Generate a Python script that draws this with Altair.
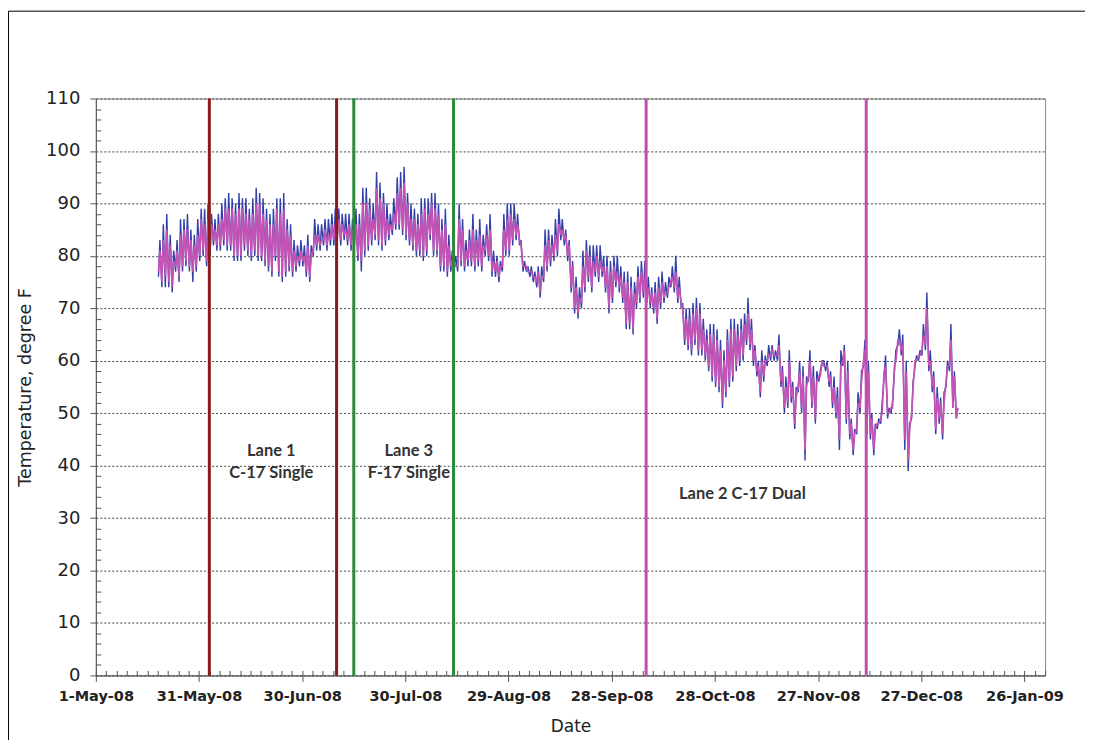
import altair as alt
import pandas as pd

# ---------------- data ----------------
START = "2008-05-19"  # first day of readings; one low (early morning) and one high (afternoon) per day

BLUE_HIGH = [
    83, 86, 88, 84, 81, 83, 87, 87, 88, 85, 84, 87, 89, 89, 90, 88, 87, 88, 90, 91, 92, 91,
    90, 92, 91, 91, 89, 91, 93, 92, 91, 89, 88, 89, 91, 91, 92, 87, 86, 83, 82, 83, 82,
    84, 82, 87, 86, 86, 87, 87, 88, 89, 89, 88, 88, 88, 87, 89, 88, 93, 93, 91, 90, 96, 94,
    92, 90, 88, 91, 95, 96, 97, 92, 90, 89, 88, 91, 91, 91, 92, 92, 90, 87, 89, 84,
    81, 80, 90, 87, 83, 85, 88, 85, 87, 84, 86, 88, 81, 80, 79, 88, 90, 90, 90, 88, 83,
    79, 78, 78, 77, 78, 78, 85, 85, 84, 87, 89, 87, 85, 83, 79, 76, 74, 81, 83, 82, 82,
    82, 82, 80, 80, 79, 80, 80, 78, 77, 77, 76, 75, 78, 79, 79, 76, 74, 75, 76, 77, 75,
    76, 78, 80, 76, 71, 70, 70, 71, 72, 71, 68, 66, 67, 67, 66, 64, 62, 66, 68, 68, 67,
    68, 69, 72, 68, 63, 60, 62, 61, 63, 63, 62, 65, 59, 57, 62, 56, 55, 60, 59, 57,
    62, 59, 58, 58, 60, 60, 58, 57, 55, 62, 63, 60, 49, 47, 54, 58, 64, 60, 50, 48, 49, 52, 61,
    51, 52, 62, 66, 65, 60, 48, 56, 61, 62, 67, 73, 62, 58, 55, 53, 54, 60,
    67, 58, 51,
]
BLUE_LOW = [
    76, 74, 74, 74, 73, 77, 75, 77, 78, 77, 75, 77, 79, 80, 78, 80, 82, 81, 81, 82, 81, 81,
    79, 79, 79, 81, 80, 79, 80, 79, 79, 78, 77, 76, 79, 76, 75, 76, 77, 76, 77, 78, 78,
    76, 75, 80, 81, 81, 82, 81, 82, 82, 83, 82, 83, 82, 81, 82, 79, 77, 80, 81, 82, 83, 82,
    81, 82, 83, 84, 85, 85, 84, 83, 82, 81, 80, 80, 79, 80, 83, 80, 80, 77, 77, 76,
    77, 78, 77, 78, 77, 78, 78, 77, 78, 77, 80, 79, 76, 76, 75, 77, 80, 80, 82, 83, 82,
    77, 77, 76, 75, 74, 72, 75, 77, 78, 79, 80, 83, 82, 79, 73, 69, 68, 70, 73, 75, 73,
    76, 75, 76, 73, 69, 71, 74, 73, 71, 66, 66, 65, 70, 71, 72, 71, 70, 69, 67, 70, 71,
    72, 74, 73, 71, 70, 63, 62, 61, 63, 61, 61, 60, 58, 56, 55, 54, 51, 53, 55, 56, 58,
    59, 60, 63, 62, 59, 57, 53, 56, 59, 60, 60, 60, 55, 50, 51, 52, 47, 54, 50, 41,
    56, 51, 48, 56, 60, 58, 55, 51, 49, 43, 59, 48, 45, 42, 46, 50, 59, 46, 45, 42, 47, 48, 57,
    49, 50, 58, 63, 61, 43, 39, 49, 59, 60, 61, 62, 58, 54, 46, 48, 45, 55,
    58, 51, 49,
]
MAG_HIGH = [
    81, 83, 85, 82, 79, 81, 84, 85, 85, 83, 82, 84, 87, 86, 87, 86, 85, 86, 87, 89, 89, 89,
    88, 89, 89, 88, 87, 88, 90, 90, 88, 87, 86, 86, 89, 88, 89, 85, 84, 81, 80, 81, 80,
    82, 80, 84, 84, 83, 85, 84, 86, 86, 87, 86, 85, 86, 85, 86, 86, 90, 90, 89, 87, 93, 91,
    90, 87, 86, 88, 92, 93, 94, 90, 87, 87, 86, 88, 89, 88, 90, 89, 88, 85, 86, 82,
    79, 78, 87, 85, 81, 83, 85, 83, 84, 82, 84, 85, 79, 79, 78, 85, 87, 88, 87, 86, 82,
    78, 77, 77, 76, 77, 76, 82, 83, 82, 84, 86, 85, 84, 82, 78, 74, 72, 78, 81, 80, 79,
    80, 79, 78, 78, 77, 78, 77, 76, 75, 75, 74, 73, 76, 77, 76, 74, 73, 73, 74, 75, 73,
    74, 76, 77, 74, 70, 68, 68, 69, 70, 69, 66, 64, 65, 65, 64, 62, 60, 64, 66, 66, 65,
    66, 67, 69, 66, 62, 59, 60, 60, 61, 62, 61, 63, 58, 55, 60, 55, 53, 58, 57, 55,
    60, 57, 56, 57, 59, 59, 57, 55, 53, 59, 62, 58, 48, 46, 52, 56, 62, 58, 49, 47, 48, 50, 59,
    50, 51, 60, 64, 63, 58, 47, 55, 60, 61, 65, 70, 60, 57, 53, 52, 52, 59,
    64, 57, 51,
]
MAG_LOW = [
    77, 75, 76, 75, 74, 78, 76, 78, 79, 78, 77, 78, 80, 81, 79, 81, 83, 82, 82, 83, 82, 82,
    80, 80, 80, 82, 81, 80, 81, 80, 80, 79, 78, 77, 80, 77, 76, 77, 78, 77, 78, 79, 79,
    77, 76, 81, 82, 82, 83, 82, 83, 83, 84, 83, 84, 83, 82, 83, 80, 79, 81, 82, 83, 84, 83,
    82, 83, 84, 85, 86, 86, 85, 84, 83, 82, 81, 81, 80, 81, 84, 81, 81, 78, 78, 77,
    78, 79, 78, 79, 78, 79, 79, 78, 79, 78, 81, 80, 77, 77, 76, 78, 81, 81, 83, 84, 83,
    78, 78, 77, 76, 75, 73, 76, 78, 79, 80, 81, 84, 83, 80, 74, 70, 69, 71, 74, 76, 74,
    77, 76, 77, 74, 70, 72, 75, 74, 72, 67, 67, 66, 71, 72, 73, 72, 71, 70, 68, 71, 72,
    73, 75, 74, 72, 71, 64, 63, 62, 64, 62, 62, 61, 59, 57, 56, 55, 52, 54, 56, 57, 59,
    60, 61, 64, 63, 60, 58, 54, 57, 60, 61, 61, 61, 56, 51, 52, 53, 48, 55, 51, 43,
    57, 52, 49, 57, 60, 59, 56, 52, 50, 45, 60, 49, 46, 43, 47, 51, 60, 47, 46, 43, 48, 49, 58,
    50, 51, 59, 64, 62, 45, 41, 50, 60, 61, 62, 63, 59, 55, 47, 49, 46, 56,
    59, 51, 49,
]

LANE_DATES = ["2008-06-03", "2008-07-10", "2008-07-15", "2008-08-13", "2008-10-08", "2008-12-11"]
LANE_GROUPS = ["Lane 1", "Lane 1", "Lane 3", "Lane 3", "Lane 2", "Lane 2"]

LABEL_TEXT = ["Lane 1", "C-17 Single", "Lane 3", "F-17 Single", "Lane 2 C-17 Dual"]
LABEL_DATE = ["2008-06-21", "2008-06-21", "2008-07-31", "2008-07-31", "2008-11-05"]
LABEL_TEMP = [42.8, 38.6, 42.8, 38.6, 34.6]

X_TICKS = ["2008-05-01", "2008-05-31", "2008-06-30", "2008-07-30", "2008-08-29",
           "2008-09-28", "2008-10-28", "2008-11-27", "2008-12-27", "2009-01-26"]
X_DOMAIN = ["2008-05-01", "2009-02-01"]
Y_TICKS = list(range(0, 111, 10))
Y_MINOR = [v for v in range(0, 111, 2) if v % 10 != 0]

# ---------------- build tables ----------------
days = pd.date_range(START, periods=len(BLUE_HIGH), freq="D")
rows = []
for name, hi, lo in (("Blue", BLUE_HIGH, BLUE_LOW), ("Magenta", MAG_HIGH, MAG_LOW)):
    for d, h, l in zip(days, hi, lo):
        rows.append({"series": name, "t": (d + pd.Timedelta(hours=5)).strftime("%Y-%m-%dT%H:%M:%S"), "temp": l})
        rows.append({"series": name, "t": (d + pd.Timedelta(hours=15)).strftime("%Y-%m-%dT%H:%M:%S"), "temp": h})
df = pd.DataFrame(rows)
blue_df = df[df.series == "Blue"]
mag_df = df[df.series == "Magenta"]

lanes_df = pd.DataFrame({"date": [d + "T00:00:00" for d in LANE_DATES], "group": LANE_GROUPS})
labels_df = pd.DataFrame({"date": [d + "T00:00:00" for d in LABEL_DATE], "temp": LABEL_TEMP, "text": LABEL_TEXT})


def dt(s):
    ts = pd.Timestamp(s)
    return alt.DateTime(year=ts.year, month=ts.month, date=ts.day)


major_x = [dt(s) for s in X_TICKS]
minor_x = [dt(s) for s in pd.date_range(X_DOMAIN[0], X_DOMAIN[1], freq="3D").strftime("%Y-%m-%d")]

xscale = alt.Scale(domain=[dt(X_DOMAIN[0]), dt(X_DOMAIN[1])], nice=False)
yscale = alt.Scale(domain=[0, 110], nice=False)

AX = "#555555"
FONT = "DejaVu Sans"

x_major = alt.Axis(values=major_x, format="%-d-%b-%y", orient="bottom", grid=False,
                   tickSize=6, tickColor=AX, domainColor=AX, labelFont=FONT, labelFontWeight="bold",
                   labelFontSize=14.5, labelColor="#222222", labelPadding=8, labelFlush=False,
                   labelOverlap=False, titleFont=FONT, titleFontSize=17, titleFontWeight="normal",
                   titleColor="#222222", titlePadding=16)
y_major = alt.Axis(values=Y_TICKS, orient="left", grid=True, gridDash=[2, 2], gridColor="#444444",
                   gridWidth=1, tickSize=6, tickColor=AX, domainColor=AX, labelFont=FONT,
                   labelFontSize=18, labelColor="#222222", labelPadding=10, titleFont=FONT,
                   titleFontSize=17.5, titleFontWeight="normal", titleColor="#222222", titlePadding=11)
x_minor = alt.Axis(values=minor_x, orient="bottom", labels=False, grid=False, domain=False,
                   tickSize=5, tickColor=AX, offset=-5)
y_minor = alt.Axis(values=Y_MINOR, orient="left", labels=False, grid=False, domain=False,
                   tickSize=5, tickColor=AX, offset=-5)

blue = alt.Chart(blue_df).mark_line(color="#3040a8", strokeWidth=1.4).encode(
    x=alt.X("t:T", scale=xscale, axis=x_major, title="Date"),
    y=alt.Y("temp:Q", scale=yscale, axis=y_major, title="Temperature, degree F"),
)
mag = alt.Chart(mag_df).mark_line(color="#c552b5", strokeWidth=1.7).encode(
    x=alt.X("t:T", scale=xscale, axis=None),
    y=alt.Y("temp:Q", scale=yscale, axis=None),
)
minor = alt.Chart(blue_df).mark_point(opacity=0).encode(
    x=alt.X("t:T", scale=xscale, axis=x_minor, title=None),
    y=alt.Y("temp:Q", scale=yscale, axis=y_minor, title=None),
)
rules = alt.Chart(lanes_df).mark_rule(strokeWidth=3).encode(
    x=alt.X("date:T", scale=xscale, axis=None),
    color=alt.Color("group:N", legend=None,
                    scale=alt.Scale(domain=["Lane 1", "Lane 3", "Lane 2"],
                                    range=["#8b1a1a", "#2a8a3a", "#c04fb0"])),
)
texts = alt.Chart(labels_df).mark_text(font="Lato", fontWeight="bold", fontSize=16.5, color="#333333").encode(
    x=alt.X("date:T", scale=xscale, axis=None),
    y=alt.Y("temp:Q", scale=yscale, axis=None),
    text="text:N",
)
frame = alt.Chart(pd.DataFrame({"k": [0]})).mark_rect(fill="white", fillOpacity=0, stroke="#000000",
                                                      strokeWidth=1).encode(
    x=alt.value(-87.5), x2=alt.value(1200), y=alt.value(-87.5), y2=alt.value(900)
)

chart = alt.layer(blue, mag, rules, texts, minor, frame).resolve_axis(
    x="independent", y="independent"
).properties(
    width=951, height=578,
    autosize=alt.AutoSizeParams(type="none"),
    padding={"left": 88, "top": 90, "right": 40, "bottom": 64},
    background="white",
).configure_view(stroke="#888888", strokeWidth=1)

chart.save("out.html", embed_options={"renderer": "svg", "actions": False})
